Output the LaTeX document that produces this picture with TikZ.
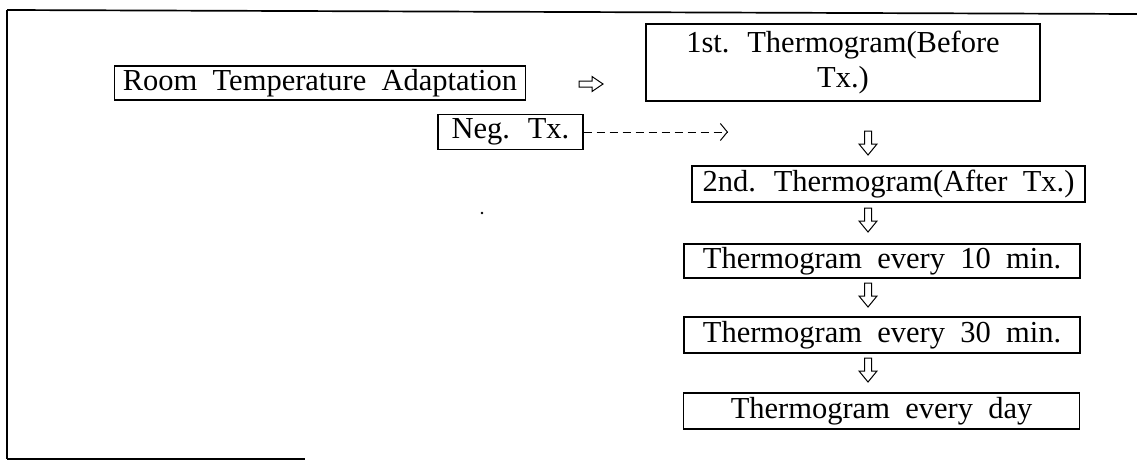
\documentclass[tikz,border=0pt]{standalone}
\usepackage{fontspec}
\setmainfont{Liberation Serif}
\usetikzlibrary{arrows.meta}
\newcommand\myboxfont{\fontsize{30.5}{35}\selectfont\spaceskip 0.5em plus 0.1em minus 0.05em\relax}
\begin{document}
\begin{tikzpicture}[x=1pt,y=-1pt,
  box/.style={draw,line width=1.2pt,inner sep=0pt,font=\myboxfont,align=center},
  frameline/.style={line width=1.7pt},
  glyphline/.style={line width=1pt,line join=miter},
  negflow/.style={line width=1pt,dash pattern=on 8pt off 5pt,
    -{Straight Barb[length=7pt,width=17pt,line width=1pt]}},
  downglyph/.pic={\draw[glyphline] (-3.5,-12) -- (3.5,-12) -- (3.5,1) -- (9,1) -- (0,12) -- (-9,1) -- (-3.5,1) -- cycle;},
  rightglyph/.pic={\draw[glyphline] (-12,-3) -- (1,-3) -- (1,-7.5) -- (12,0) -- (1,7.5) -- (1,3) -- (-12,3) -- cycle;}]
\useasboundingbox (0,0) rectangle (1137,460);
% outer frame (partial, as printed)
\draw[frameline] (7,10) -- (1137,14);
\draw[frameline] (7,10) -- (7,459);
\draw[frameline] (7,459) -- (305,459);
% boxes
\node[box,minimum width=411pt,minimum height=34pt] (room) at (320,83) {Room Temperature Adaptation};
\node[box,minimum width=394pt,minimum height=77pt] (first) at (843,62.5) {1st. Thermogram(Before\\Tx.)};
\node[box,minimum width=145pt,minimum height=35pt] (neg) at (510.5,132) {Neg. Tx.};
\node[box,minimum width=393pt,minimum height=36pt] (second) at (888.5,184) {2nd. Thermogram(After Tx.)};
\node[box,minimum width=396pt,minimum height=34pt] (ten) at (882,261) {Thermogram every 10 min.};
\node[box,minimum width=396pt,minimum height=36pt] (thirty) at (882,335) {Thermogram every 30 min.};
\node[box,minimum width=396pt,minimum height=36pt] (day) at (881.5,411) {Thermogram every day};
% white block arrows
\pic at (591,84) {rightglyph};
\pic at (868,143) {downglyph};
\pic at (868,220) {downglyph};
\pic at (868,295) {downglyph};
\pic at (868,370) {downglyph};
% dashed arrow
\coordinate (dashend) at (728,132);
\draw[negflow] (neg.east) -- (dashend);
% speck
\fill (482,213) circle (1.3pt);
\end{tikzpicture}
\end{document}
